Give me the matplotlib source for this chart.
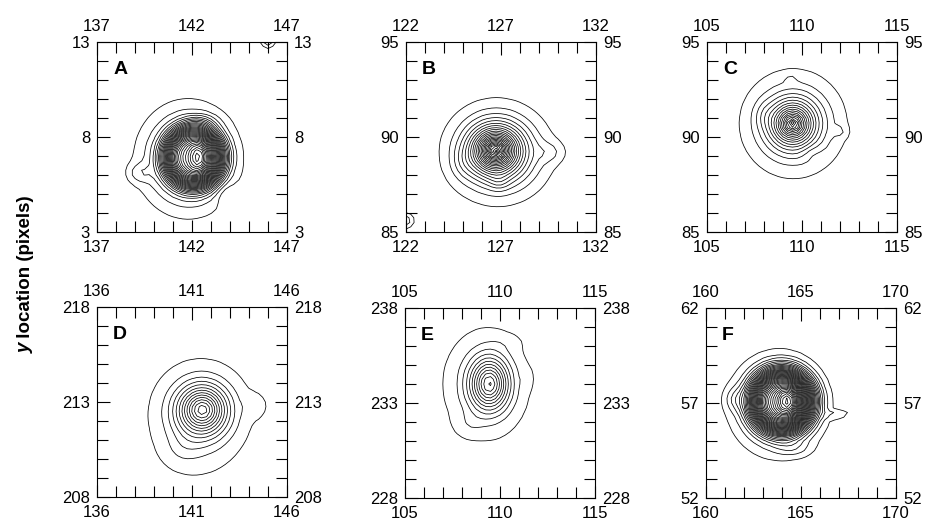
import numpy as np
import matplotlib.pyplot as plt

plt.rcParams['font.family'] = ['Liberation Sans', 'DejaVu Sans']

# ---------------------------------------------------------------
# dados de cada painel (janela de 10 x 10 pixels)
# ---------------------------------------------------------------
panel_labels = ['A', 'B', 'C', 'D', 'E', 'F']
x_start = [137, 122, 105, 136, 105, 160]
y_start = [3, 85, 85, 208, 228, 52]

# nucleo da mancha
center_x = [142.1, 126.7, 109.5, 141.55, 109.45, 164.0]
center_y = [6.95, 89.3, 90.7, 212.6, 234.0, 57.1]
core_amp = [0.75, 1.0, 1.0, 1.0, 1.0, 0.75]
core_sx = [1.55, 1.05, 0.95, 1.2, 0.95, 1.65]
core_sy = [1.6, 1.0, 0.95, 1.2, 1.3, 1.65]
core_pow = [3.6, 1.3, 1.25, 1.7, 1.8, 3.4]

# pico interno (centro saturado de A e F)
inner_amp = [0.2, 0.0, 0.0, 0.0, 0.0, 0.22]
inner_dx = [0.25, 0.0, 0.0, 0.0, 0.0, 0.3]
inner_dy = [0.0, 0.0, 0.0, 0.0, 0.0, 0.0]
inner_sx = [0.5, 1.0, 1.0, 1.0, 1.0, 0.55]
inner_sy = [0.85, 1.0, 1.0, 1.0, 1.0, 0.75]

# halo externo
halo_amp = [0.24, 0.12, 0.12, 0.14, 0.16, 0.2]
halo_sx = [2.0, 2.0, 1.8, 1.8, 1.6, 2.0]
halo_sy = [2.2, 1.8, 1.9, 2.1, 2.0, 2.1]
halo_dx = [-0.3, 0.3, 0.1, -0.3, -0.3, -0.2]
halo_dy = [-0.1, -0.3, 0.0, -0.7, 0.0, -0.2]

# niveis de contorno
level_min = [0.03, 0.03, 0.03, 0.03, 0.03, 0.03]
level_step = [0.035, 0.045, 0.06, 0.085, 0.1, 0.03]

# pequenas irregularidades (x, y, amplitude, sx, sy)
bumps = [
    [(139.2, 6.1, 0.06, 0.6, 0.5), (146.0, 13.1, 0.12, 0.35, 0.35),
     (142.6, 8.8, 0.05, 0.8, 0.4), (143.8, 5.0, -0.04, 0.6, 0.6)],
    [(129.6, 89.2, 0.06, 0.7, 0.55), (122.0, 85.6, 0.12, 0.35, 0.35),
     (125.0, 88.6, 0.04, 0.6, 0.8), (126.9, 87.6, 0.05, 0.5, 0.4)],
    [(112.0, 90.3, 0.07, 0.35, 0.3), (109.4, 93.1, 0.06, 0.3, 0.2),
     (108.0, 91.2, 0.05, 0.5, 0.7), (110.5, 89.2, -0.04, 0.5, 0.4)],
    [(144.3, 212.8, 0.09, 0.5, 0.55), (140.5, 210.5, 0.06, 0.9, 0.8)],
    [(108.4, 231.9, 0.07, 0.7, 0.6), (111.4, 234.3, 0.05, 0.3, 0.5),
     (110.3, 236.2, 0.04, 0.8, 0.4)],
    [(166.9, 56.4, 0.05, 0.8, 0.18), (161.5, 57.2, 0.05, 0.5, 0.6),
     (164.6, 54.6, 0.04, 0.9, 0.4)],
]

# posicoes dos eixos em pixels (esquerda, topo)
ax_left_px = [97, 406, 707, 97, 405, 706]
ax_top_px = [42, 42, 42, 307, 308, 308]
ax_size_px = 190
W, H = 931, 523

fig = plt.figure(figsize=(W / 100, H / 100), dpi=100)

for i in range(6):
    x0, y0 = x_start[i], y_start[i]
    ax = fig.add_axes([ax_left_px[i] / W, (H - ax_top_px[i] - ax_size_px) / H,
                       ax_size_px / W, ax_size_px / H])

    xs = np.arange(x0, x0 + 10.01, 0.25)
    ys = np.arange(y0, y0 + 10.01, 0.25)
    X, Y = np.meshgrid(xs, ys)

    r = np.sqrt(((X - center_x[i]) / core_sx[i]) ** 2 + ((Y - center_y[i]) / core_sy[i]) ** 2)
    Z = core_amp[i] * np.exp(-r ** core_pow[i])
    Z += inner_amp[i] * np.exp(-(((X - center_x[i] - inner_dx[i]) / inner_sx[i]) ** 2
                                 + ((Y - center_y[i] - inner_dy[i]) / inner_sy[i]) ** 2))
    Z += halo_amp[i] * np.exp(-(((X - center_x[i] - halo_dx[i]) / halo_sx[i]) ** 2
                                + ((Y - center_y[i] - halo_dy[i]) / halo_sy[i]) ** 2))
    for bx, by, ba, bsx, bsy in bumps[i]:
        Z += ba * np.exp(-(((X - bx) / bsx) ** 2 + ((Y - by) / bsy) ** 2))

    levels = np.arange(level_min[i], Z.max(), level_step[i])
    ax.contour(X, Y, Z, levels=levels, colors='black', linewidths=0.55)

    ax.set_xlim(x0, x0 + 10)
    ax.set_ylim(y0, y0 + 10)
    ax.set_xticks([x0, x0 + 5, x0 + 10])
    ax.set_yticks([y0, y0 + 5, y0 + 10])
    ax.set_xticks(np.arange(x0, x0 + 11), minor=True)
    ax.set_yticks(np.arange(y0, y0 + 11), minor=True)
    ax.tick_params(which='both', direction='in', top=True, right=True,
                   labeltop=True, labelright=True, labelsize=12, width=0.8, pad=5)
    ax.tick_params(which='major', length=9)
    ax.tick_params(which='minor', length=8)
    ax.tick_params(axis='x', which='major', pad=6)
    for s in ax.spines.values():
        s.set_linewidth(0.8)

    ax.text(0.085, 0.81, panel_labels[i], transform=ax.transAxes,
            fontsize=14, fontweight='bold', ha='left', va='bottom')

# rotulo do eixo y: "y" em negrito italico, resto em negrito
t1 = fig.text(0.027, 0.325, 'y', rotation=90, fontsize=13.5, fontweight='bold',
              fontstyle='italic', ha='center', va='bottom')
fig.canvas.draw()
bb = t1.get_window_extent()
fig.text((bb.x0 + bb.width / 2) / W, bb.y1 / H, ' location (pixels)', rotation=90,
         fontsize=13.5, fontweight='bold', ha='center', va='bottom')

plt.savefig('out.png', dpi=100)
